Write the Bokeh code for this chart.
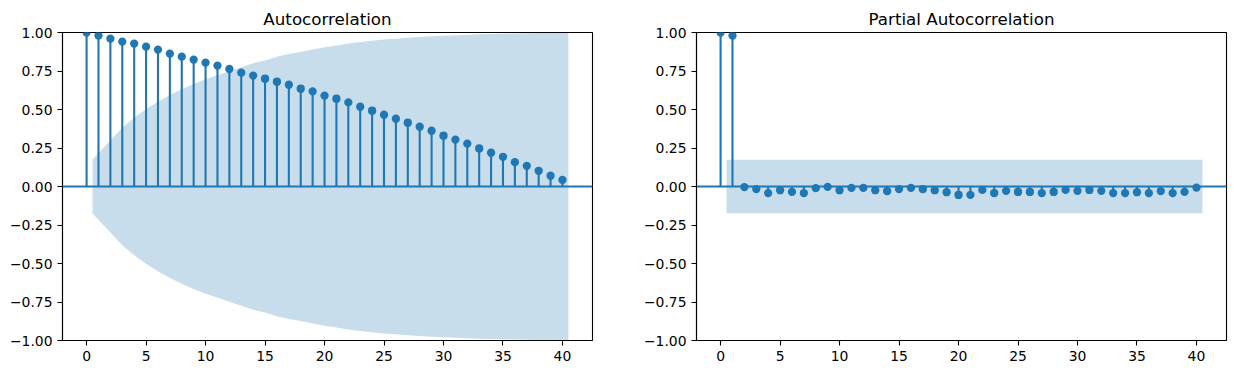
from bokeh.plotting import figure
from bokeh.layouts import row, column
from bokeh.models import Range1d, FixedTicker, Span, Spacer
from bokeh.embed import file_html
from bokeh.resources import INLINE

# ---------------- data ----------------
LAGS = list(range(0, 41))

ACF = [1.000, 0.980, 0.960, 0.941, 0.928, 0.908, 0.889, 0.863, 0.843, 0.824,
       0.804, 0.785, 0.763, 0.739, 0.720, 0.700, 0.681, 0.661, 0.635, 0.618,
       0.590, 0.570, 0.546, 0.518, 0.492, 0.466, 0.440, 0.414, 0.388, 0.362,
       0.330, 0.304, 0.278, 0.247, 0.219, 0.193, 0.158, 0.134, 0.102, 0.070,
       0.043]

# half-width of the ACF confidence band for lags 1..40
ACF_BAND = [0.175, 0.298, 0.381, 0.446, 0.502, 0.551, 0.594, 0.632, 0.666, 0.697,
            0.722, 0.748, 0.775, 0.800, 0.818, 0.842, 0.860, 0.874, 0.890, 0.904,
            0.916, 0.928, 0.938, 0.947, 0.954, 0.960, 0.966, 0.971, 0.975, 0.979,
            0.982, 0.985, 0.988, 0.990, 0.992, 0.994, 0.995, 0.996, 0.997, 0.998]

PACF = [1.000, 0.980, -0.004, -0.017, -0.043, -0.024, -0.035, -0.043, -0.011, -0.002,
        -0.024, -0.009, -0.009, -0.024, -0.030, -0.017, -0.009, -0.017, -0.024, -0.037,
        -0.055, -0.054, -0.022, -0.043, -0.028, -0.035, -0.035, -0.043, -0.035, -0.022,
        -0.028, -0.022, -0.028, -0.043, -0.043, -0.037, -0.043, -0.030, -0.043, -0.035,
        -0.007]

PACF_BAND_HALF = 0.174

TITLES = ["Autocorrelation", "Partial Autocorrelation"]
X_TICKS = [0, 5, 10, 15, 20, 25, 30, 35, 40]
X_TICK_LABELS = ["0", "5", "10", "15", "20", "25", "30", "35", "40"]
Y_TICKS = [-1.0, -0.75, -0.5, -0.25, 0.0, 0.25, 0.5, 0.75, 1.0]
Y_TICK_LABELS = ["\u22121.00", "\u22120.75", "\u22120.50", "\u22120.25", "0.00",
                 "0.25", "0.50", "0.75", "1.00"]

# ---------------- styling ----------------
BLUE = "#1f77b4"
FONT = "DejaVu Sans"


def make_panel(title, values, band, border_left, border_right):
    p = figure(frame_width=530, frame_height=308,
               x_range=Range1d(-2.025, 42.525), y_range=Range1d(-1.0, 1.0),
               output_backend="svg", toolbar_location=None,
               min_border_left=border_left, min_border_right=border_right,
               min_border_top=0, min_border_bottom=28)
    p.title.text = title
    p.title.align = "center"
    p.title.text_font = FONT
    p.title.text_font_size = "16.7px"
    p.title.text_font_style = "normal"
    p.title.text_color = "black"
    p.title.standoff = 8
    p.title.offset = 0

    p.xgrid.visible = False
    p.ygrid.visible = False
    p.outline_line_color = "black"
    p.outline_line_width = 1.1
    p.outline_line_alpha = 1.0

    for ax in (p.xaxis[0], p.yaxis[0]):
        ax.axis_line_color = "black"
        ax.axis_line_width = 1.1
        ax.major_tick_line_color = "black"
        ax.major_tick_line_width = 1.1
        ax.major_tick_out = 5
        ax.major_tick_in = 0
        ax.minor_tick_line_color = None
        ax.major_label_text_font = FONT
        ax.major_label_text_font_size = "13.9px"
        ax.major_label_text_color = "black"
        ax.major_label_standoff = 5

    p.xaxis.ticker = FixedTicker(ticks=X_TICKS)
    p.xaxis.major_label_overrides = dict(zip(X_TICKS, X_TICK_LABELS))
    p.yaxis.ticker = FixedTicker(ticks=Y_TICKS)
    p.yaxis.major_label_overrides = dict(zip(Y_TICKS, Y_TICK_LABELS))

    # stems and markers
    p.segment(x0=LAGS, y0=[0] * len(LAGS), x1=LAGS, y1=values,
              line_color=BLUE, line_width=2.1)
    p.add_layout(Span(location=0, dimension="width", line_color=BLUE,
                      line_width=2.1, level="glyph"))
    p.scatter(x=LAGS, y=values, size=8.3, marker="circle",
              fill_color=BLUE, line_color=BLUE, line_width=0)

    # confidence band (lags 1..40, outer lags widened by half a step)
    band_x = [float(v) for v in LAGS[1:]]
    band_x[0] -= 0.5
    band_x[-1] += 0.5
    p.varea(x=band_x, y1=[-b for b in band], y2=band,
            fill_color=BLUE, fill_alpha=0.25)
    return p


p1 = make_panel(TITLES[0], ACF, ACF_BAND, 62, 20)
p2 = make_panel(TITLES[1], PACF, [PACF_BAND_HALF] * 40, 84, 2)

layout = column(Spacer(height=2), row(p1, p2, spacing=0), spacing=0)

with open("out.html", "w") as f:
    f.write(file_html(layout, INLINE))
